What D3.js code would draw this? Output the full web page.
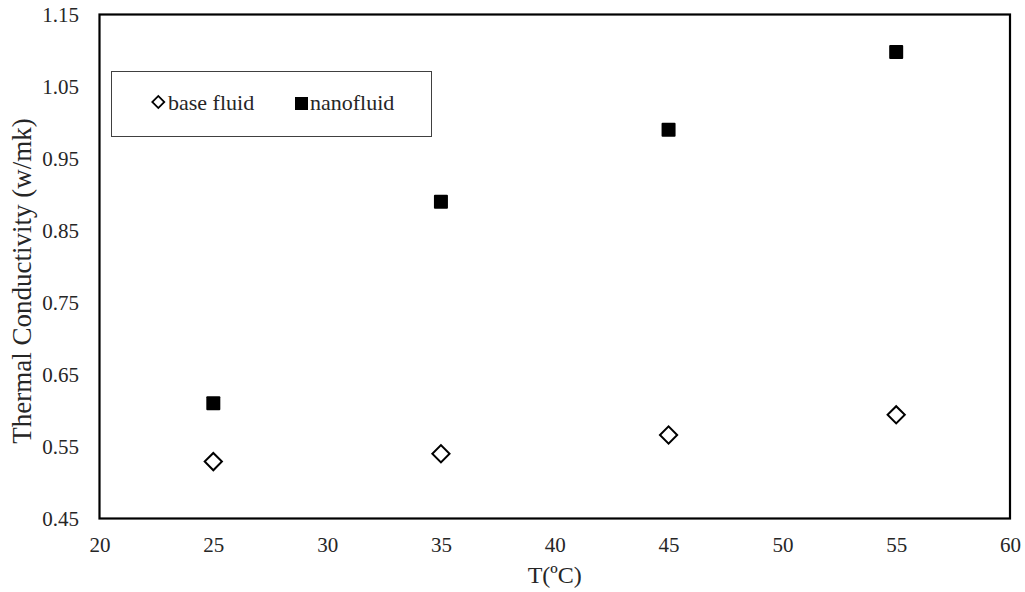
<!DOCTYPE html>
<html><head><meta charset="utf-8">
<script src="https://cdn.jsdelivr.net/npm/d3@7"></script>
<style>body{margin:0;background:#fff}svg{display:block}text{font-family:"Liberation Serif","Times New Roman",serif;fill:#262626}</style>
</head><body><svg id="c" width="1025" height="592"></svg>
<script>
const temps = [25, 35, 45, 55];
const baseFluid = [0.529, 0.540, 0.566, 0.594];
const nanoFluid = [0.610, 0.890, 0.990, 1.098];
const xTicks = [20, 25, 30, 35, 40, 45, 50, 55, 60];
const yTicks = [0.45, 0.55, 0.65, 0.75, 0.85, 0.95, 1.05, 1.15];
const seriesNames = ["base fluid", "nanofluid"];

const svg = d3.select("#c");
const L = 99.5, R = 1010, T = 14.5, B = 518.5;
const x = d3.scaleLinear().domain([20, 60]).range([L, R]);
const y = d3.scaleLinear().domain([0.45, 1.15]).range([B, T]);

const xAxis = d3.axisBottom(x).tickValues(xTicks).tickSize(0).tickPadding(18.5).tickFormat(d3.format("d"));
const yAxis = d3.axisLeft(y).tickValues(yTicks).tickSize(0).tickPadding(20.5).tickFormat(d3.format(".2f"));
const gx = svg.append("g").attr("transform", `translate(0,${B})`).call(xAxis);
const gy = svg.append("g").attr("transform", `translate(${L},0)`).call(yAxis);
[gx, gy].forEach(g => { g.select(".domain").remove(); g.selectAll("text").style("font-size", "21px").attr("fill", "#262626").style("font-family", '"Liberation Serif",serif'); });

svg.append("rect").attr("x", L).attr("y", T).attr("width", R - L).attr("height", B - T)
  .attr("fill", "none").attr("stroke", "#000").attr("stroke-width", 2.2);

svg.append("text").attr("x", (L + R) / 2).attr("y", 583).attr("text-anchor", "middle")
  .style("font-size", "24px").text("T(\u00BAC)");
svg.append("text").attr("transform", `translate(31,281) rotate(-90)`).attr("text-anchor", "middle")
  .style("font-size", "27px").text("Thermal Conductivity (w/mk)");

const diamond = d3.symbol().type(d3.symbolSquare).size(148)();
svg.append("g").selectAll("path").data(temps).join("path")
  .attr("d", diamond)
  .attr("transform", (d, i) => `translate(${x(d)},${y(baseFluid[i])}) rotate(45)`)
  .attr("fill", "#fff").attr("stroke", "#000").attr("stroke-width", 2);
svg.append("g").selectAll("rect").data(temps).join("rect")
  .attr("x", d => x(d) - 7).attr("y", (d, i) => y(nanoFluid[i]) - 7)
  .attr("width", 14).attr("height", 14).attr("rx", 1).attr("fill", "#000");

const lg = svg.append("g");
lg.append("rect").attr("x", 111.5).attr("y", 71.5).attr("width", 320).attr("height", 65)
  .attr("fill", "#fff").attr("stroke", "#404040").attr("stroke-width", 1);
lg.append("path").attr("d", d3.symbol().type(d3.symbolSquare).size(72)())
  .attr("transform", "translate(158.3,102) rotate(45)").attr("fill", "#fff").attr("stroke", "#000").attr("stroke-width", 1.8);
lg.append("text").attr("x", 168).attr("y", 110).style("font-size", "22px").text(seriesNames[0]);
lg.append("rect").attr("x", 295).attr("y", 97).attr("width", 13).attr("height", 13).attr("fill", "#000");
lg.append("text").attr("x", 310).attr("y", 110).style("font-size", "22px").text(seriesNames[1]);
</script></body></html>
